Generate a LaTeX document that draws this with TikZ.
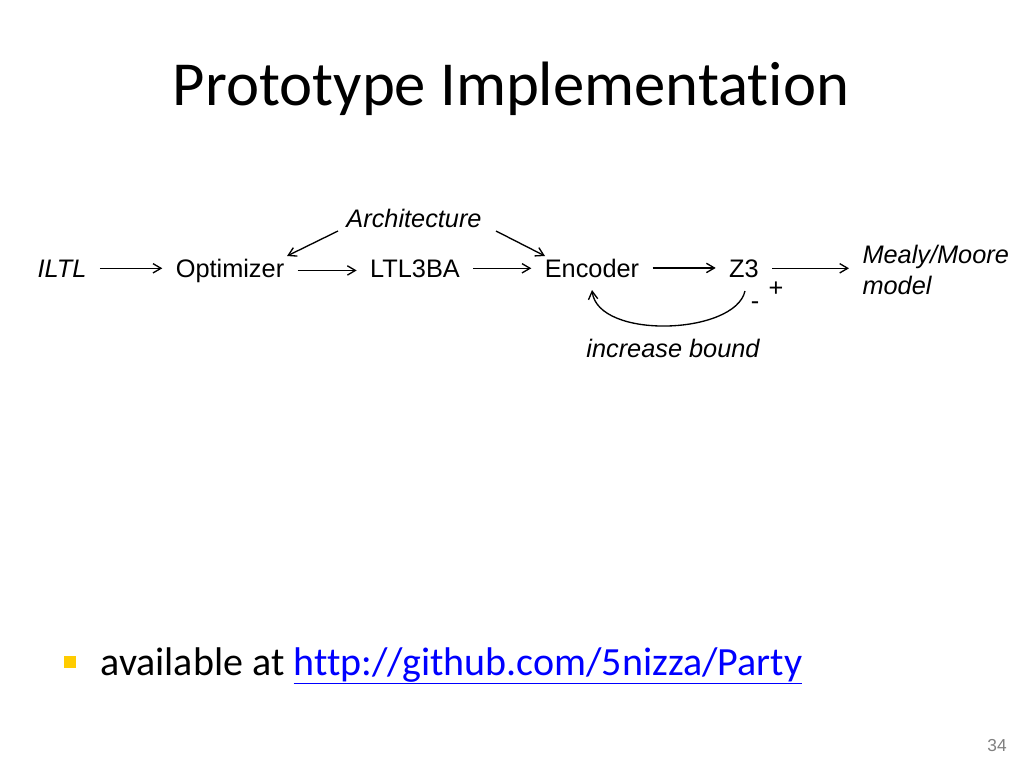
\documentclass[tikz,border=0pt]{standalone}
\usepackage{fontspec}
\setmainfont{Liberation Sans}
\newfontfamily\slidefont[Ligatures=NoCommon]{Carlito}
\usetikzlibrary{arrows.meta}
\definecolor{linkblue}{RGB}{0,0,255}
\definecolor{bulletyellow}{RGB}{255,204,0}
\tikzset{every picture/.style={line width=0.75pt}}
\tikzset{
  lbl/.style={inner sep=0.75pt, anchor=base, font=\fontsize{19}{22}\selectfont},
  flow/.style={-{Straight Barb[length=6pt,width=7pt]}, line width=1pt, shorten <=9pt, shorten >=9pt}
}

\begin{document}
\begin{tikzpicture}[x=0.75pt,y=0.75pt,yscale=-1]
        \useasboundingbox (0,0) rectangle (1024,768);
        
        % Title
        \node [anchor=base] (title) at (511,105) {\slidefont\fontsize{47}{54}\selectfont Prototype Implementation};
        
        % Text Nodes
        \node [lbl] (iltl) at (62,277) {\itshape ILTL};
        \node [lbl] (opt) at (230,277) {Optimizer};
        \node [lbl] (ltl) at (415,277) {LTL3BA};
        \node [lbl] (enc) at (592,277) {Encoder};
        \node [lbl] (zthree) at (744,277) {Z3};
        \node [lbl, anchor=west, align=left] (mealy) at (861,270) {\itshape Mealy/Moore\\[1pt]\itshape model};
        \node [lbl] (arch) at (414,227) {\itshape Architecture};
        \node [lbl] (incr) at (673,357) {\itshape increase bound};
        \node [lbl] (minus) at (755,309) {-};
        \node [lbl] (plus) at (776,296) {+};
        \coordinate (loopend) at (745,291);
        \coordinate (loopin) at (592,290);
        
        % Arrows
        \draw [flow] (iltl.east) -- (opt.west |- iltl.east);
        \draw [flow] (opt.east) -- (ltl.west |- opt.east);
        \draw [flow] (ltl.east) -- (enc.west |- ltl.east);
        \draw [flow] (enc.east) -- (zthree.west |- enc.east);
        \draw [flow] (zthree.east) -- (mealy.west |- zthree.east);
        \draw [flow, shorten <=0pt, shorten >=0pt] (338,231) -- (287,256);
        \draw [flow, shorten <=0pt, shorten >=0pt] (496,231) -- (545,256);
        \draw [flow, shorten <=0pt, shorten >=0pt] (loopend) .. controls (735,335) and (598,340) .. (loopin);
        
        % Bullet
        \fill [bulletyellow] (64,656) rectangle (76,668);
        \node [anchor=base west, inner sep=0pt] (avail) at (100,675) {\slidefont\fontsize{30}{35}\selectfont available at \textcolor{linkblue}{\underline{http://github.com/5nizza/Party}}};
        
        % Page number
        \node [text=gray] (page) at (997,746) {\fontsize{13}{15}\selectfont 34};
        
\end{tikzpicture}
\end{document}
